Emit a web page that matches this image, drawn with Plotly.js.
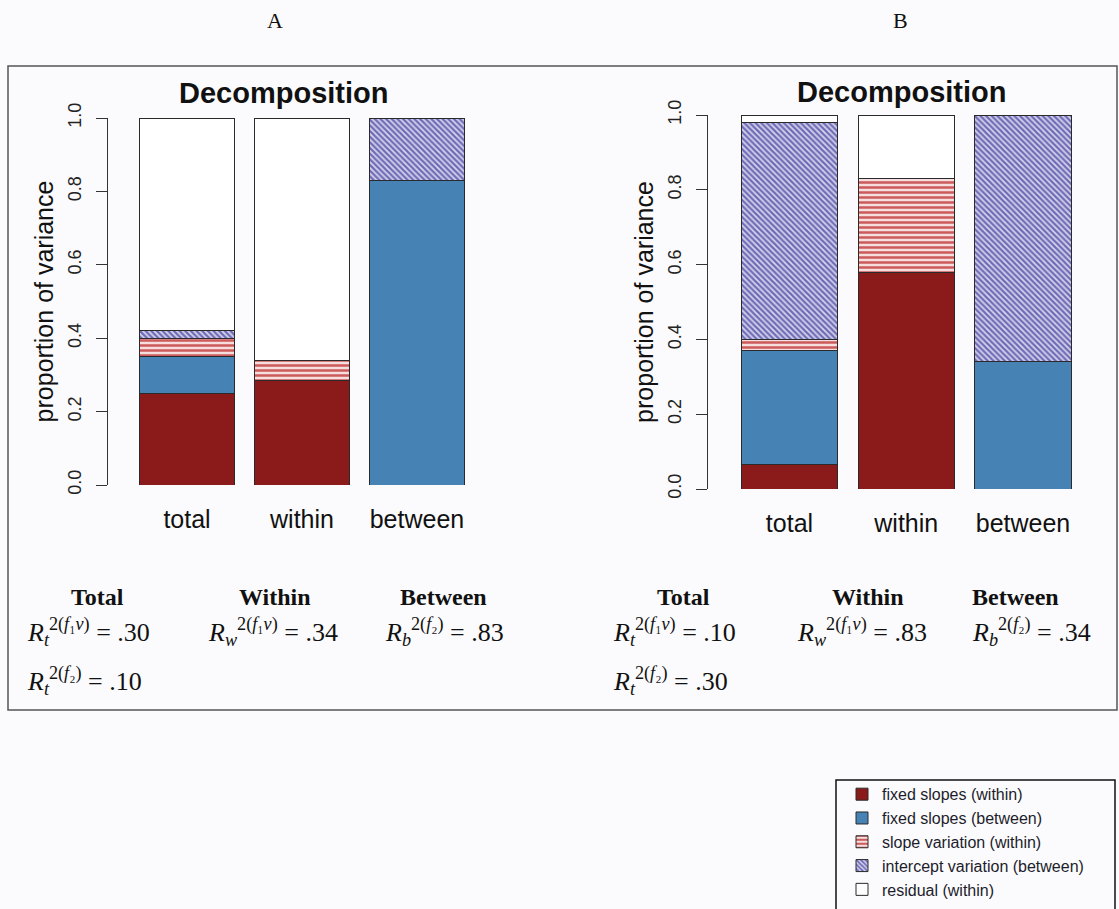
<!DOCTYPE html>
<html><head><meta charset="utf-8">
<script src="https://cdn.plot.ly/plotly-3.0.1.min.js"></script>
<style>html,body{margin:0;padding:0;background:#fbfbfd}</style>
</head><body><div id="chart" style="width:1119px;height:909px"></div>
<script>
// ---- data ----
const categories = ['total', 'within', 'between'];
const componentNames = ['fixed slopes (within)', 'fixed slopes (between)', 'slope variation (within)', 'intercept variation (between)', 'residual (within)'];
const yTickValues = [0, 0.2, 0.4, 0.6, 0.8, 1.0];
const yTickLabels = ['0.0', '0.2', '0.4', '0.6', '0.8', '1.0'];

// Panel A (stack order bottom -> top)
const A_fixedWithin    = [0.25, 0.285, 0];
const A_fixedBetween   = [0.10, 0, 0.83];
const A_slopeVar       = [0.05, 0.055, 0];
const A_interceptVar   = [0.02, 0, 0.17];
const A_residual       = [0.58, 0.66, 0];

// Panel B
const B_fixedWithin    = [0.065, 0.58, 0];
const B_fixedBetween   = [0.305, 0, 0.34];
const B_slopeVar       = [0.03, 0.25, 0];
const B_interceptVar   = [0.58, 0, 0.66];
const B_residual       = [0.02, 0.17, 0];

const panelLetters = ['A', 'B'];
const panelTitle = 'Decomposition';
const summaryHeads = ['Total', 'Within', 'Between'];
const A_summary = ['.30', '.10', '.34', '.83'];   // Rt(f1v), Rt(f2), Rw(f1v), Rb(f2)
const B_summary = ['.10', '.30', '.83', '.34'];

// ---- styles ----
const outline = {color: '#2a2a2a', width: 1};
const styles = [
  {color: '#8B1A1A'},
  {color: '#4682B4'},
  {color: '#ffffff', pattern: {shape: '-', fgcolor: '#cc5a5a', bgcolor: '#f6dede', size: 5, solidity: 0.5}},
  {color: '#ffffff', pattern: {shape: '\\', fgcolor: '#6c6cb8', bgcolor: '#d9d3ea', size: 4, solidity: 0.55}},
  {color: '#ffffff'}
];

function panelTraces(series, xa, ya, showLegend) {
  return series.map((vals, i) => ({
    type: 'bar', x: categories, y: vals, name: componentNames[i],
    legendgroup: 'g' + i, showlegend: showLegend,
    xaxis: xa, yaxis: ya,
    marker: Object.assign({line: outline}, styles[i]),
    hoverinfo: 'name+y'
  }));
}

const data = [
  ...panelTraces([A_fixedWithin, A_fixedBetween, A_slopeVar, A_interceptVar, A_residual], 'x', 'y', true),
  ...panelTraces([B_fixedWithin, B_fixedBetween, B_slopeVar, B_interceptVar, B_residual], 'x2', 'y2', false)
];

const W = 1119, H = 909;
const px = v => v / W;
const py = v => 1 - v / H;

function yAxis(domain, anchor) {
  return {
    domain: domain, anchor: anchor, range: [0, 1], autorange: false,
    showline: true, linecolor: '#333', linewidth: 1,
    ticks: 'outside', ticklen: 11, tickwidth: 1, tickcolor: '#333',
    tickvals: yTickValues, ticktext: yTickLabels, tickangle: -90,
    tickfont: {family: 'Liberation Sans, Arial, sans-serif', size: 18, color: '#222'},
    ticklabelstandoff: 8,
    showgrid: false, zeroline: false, automargin: false,
    title: {text: 'proportion of variance', standoff: 4,
            font: {family: 'Liberation Sans, Arial, sans-serif', size: 25, color: '#111'}}
  };
}
function xAxis(domain, range, anchor) {
  return {
    domain: domain, anchor: anchor, range: range, autorange: false, type: 'category',
    showline: false, ticks: '', showgrid: false, zeroline: false, automargin: false,
    tickfont: {family: 'Liberation Sans, Arial, sans-serif', size: 25, color: '#111'},
    ticklabelstandoff: 17
  };
}

const serif = 'Liberation Serif, Times New Roman, serif';
const annotations = [];
function ann(x, y, text, font, xanchor) {
  annotations.push({xref: 'paper', yref: 'paper', x: px(x), y: py(y), text: text, showarrow: false,
    xanchor: xanchor || 'center', yanchor: 'middle', font: font});
}
// panel letters
[[275, 21], [900, 21]].forEach((p, i) => ann(p[0], p[1], panelLetters[i], {family: serif, size: 22, color: '#111'}));
// panel titles
[[283, 93], [901, 92]].forEach(p => ann(p[0], p[1], '<b>' + panelTitle + '</b>',
  {family: 'Liberation Sans, Arial, sans-serif', size: 29, color: '#111'}));
// summary headings
const headX = [[97, 275, 443], [683, 868, 1015]];
headX.forEach(row => row.forEach((x, i) => ann(x, 597, '<b>' + summaryHeads[i] + '</b>',
  {family: serif, size: 24, color: '#111'})));
// R-squared lines
function rText(sub, sup, val) {
  return '<i>R</i><sub><i>' + sub + '</i></sub><sup>2(' + sup + ')</sup> = ' + val;
}
const f1v = '<i>f</i>₁<i>v</i>';
const f2 = '<i>f</i>₂';
function addR(xs, vals) {
  const items = [
    [xs[0], 632, rText('t', f1v, vals[0])],
    [xs[0], 681, rText('t', f2, vals[1])],
    [xs[1], 632, rText('w', f1v, vals[2])],
    [xs[2], 632, rText('b', f2, vals[3])]
  ];
  items.forEach(it => ann(it[0], it[1], it[2], {family: serif, size: 26, color: '#111'}, 'left'));
}
addR([25, 206, 383], A_summary);
addR([611, 795, 970], B_summary);

const layout = {
  width: W, height: H, autosize: false,
  margin: {l: 0, r: 0, t: 0, b: 0},
  paper_bgcolor: '#fbfbfd', plot_bgcolor: 'rgba(0,0,0,0)',
  barmode: 'stack', bargap: 0.175,
  xaxis: xAxis([px(108), px(480)], [-0.687, 2.548], 'y'),
  yaxis: yAxis([py(485), py(118)], 'x'),
  xaxis2: xAxis([px(708), px(1090)], [-0.698, 2.574], 'y2'),
  yaxis2: yAxis([py(489), py(115)], 'x2'),
  showlegend: true,
  legend: {
    x: px(842), y: 0.003, xanchor: 'left', yanchor: 'bottom',
    bgcolor: 'rgba(0,0,0,0)', borderwidth: 0, traceorder: 'normal',
    font: {family: 'Liberation Sans, Arial, sans-serif', size: 16, color: '#1d1d2b'},
    itemclick: false, itemdoubleclick: false
  },
  shapes: [
    {type: 'rect', xref: 'paper', yref: 'paper', x0: px(8), x1: px(1117), y0: py(710), y1: py(66),
     line: {color: '#555', width: 1.5}, fillcolor: 'rgba(0,0,0,0)', layer: 'below'},
    {type: 'rect', xref: 'paper', yref: 'paper', x0: px(836), x1: px(1115), y0: py(912), y1: py(780),
     line: {color: '#111', width: 1.5}, fillcolor: 'rgba(0,0,0,0)', layer: 'below'}
  ],
  annotations: annotations
};

Plotly.newPlot('chart', data, layout, {displayModeBar: false, staticPlot: true});
</script></body></html>
